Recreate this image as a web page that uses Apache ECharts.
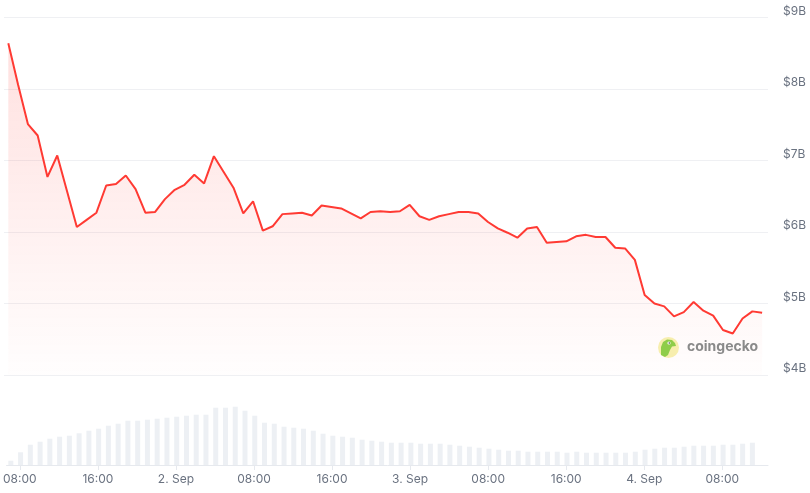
<!DOCTYPE html>
<html><head><meta charset="utf-8">
<script src="https://cdn.jsdelivr.net/npm/echarts@6/dist/echarts.min.js"></script>
<style>html,body{margin:0;padding:0;background:#fff}#c{width:810px;height:493px}</style>
</head><body><div id="c"></div>
<script>
// time in hours since 1 Sep 00:00, hourly samples
const startHour = 7.08;
// market cap, $B
const marketCap = [8.64, 8.06, 7.51, 7.35, 6.77, 7.07, 6.57, 6.07, 6.17, 6.27,
  6.65, 6.67, 6.79, 6.60, 6.27, 6.28, 6.46, 6.59, 6.66, 6.80,
  6.68, 7.06, 6.84, 6.62, 6.26, 6.43, 6.02, 6.08, 6.25, 6.26,
  6.27, 6.23, 6.37, 6.35, 6.33, 6.26, 6.19, 6.28, 6.29, 6.28,
  6.29, 6.38, 6.22, 6.17, 6.22, 6.25, 6.28, 6.28, 6.26, 6.14,
  6.05, 5.99, 5.92, 6.05, 6.07, 5.85, 5.86, 5.87, 5.94, 5.96,
  5.93, 5.93, 5.78, 5.77, 5.61, 5.12, 5.00, 4.96, 4.82, 4.88,
  5.02, 4.90, 4.83, 4.63, 4.58, 4.79, 4.89, 4.87];
// volume (relative units)
const volume = [4.3, 12.7, 20.3, 23.3, 26.3, 28.3, 29.3, 31.7, 34.3, 36.3,
  39.3, 41.3, 44.3, 44.3, 45.3, 46.3, 47.3, 48.3, 49.3, 50.3,
  50.3, 57.3, 57.3, 58.3, 54.3, 49.3, 42.3, 41.3, 38.3, 37.3,
  36.3, 34.3, 31.3, 29.3, 28.3, 27.3, 25.3, 24.3, 23.3, 22.3,
  22.3, 22.3, 21.3, 21.3, 21.3, 20.3, 19.3, 18.3, 17.3, 16.3,
  15.3, 14.3, 14.3, 13.3, 13.3, 13.3, 13.3, 12.3, 13.3, 12.3,
  12.3, 12.3, 12.3, 12.3, 13.3, 15.3, 16.3, 17.3, 17.3, 18.3,
  19.3, 19.3, 19.3, 20.3, 20.3, 21.3, 22.3];
const tickHours = [8, 16, 24, 32, 40, 48, 56, 64, 72, 80];
const tickLabels = ['08:00', '16:00', '2. Sep', '08:00', '16:00', '3. Sep', '08:00', '16:00', '4. Sep', '08:00'];

const capData = marketCap.map((v, i) => [startHour + i, v]);
const volData = volume.map((v, i) => [startHour + i, v]);
const xMin = 6.64, xMax = 84.68;
const font = 'Inter, "Liberation Sans", Arial, sans-serif';

const chart = echarts.init(document.getElementById('c'), null, {renderer: 'canvas'});
chart.setOption({
  animation: false,
  grid: [
    {left: 4, right: 42, top: 17.5, bottom: 118},
    {left: 4, right: 42, top: 395, bottom: 28}
  ],
  xAxis: [
    {type: 'value', gridIndex: 0, min: xMin, max: xMax, show: false},
    {type: 'value', gridIndex: 1, min: xMin, max: xMax,
      axisLine: {show: true, lineStyle: {color: '#e6e9ee', width: 1}},
      axisTick: {show: true, customValues: tickHours, length: 5, lineStyle: {color: '#e6e9ee'}},
      axisLabel: {show: true, customValues: tickHours, margin: 8, color: '#6a7280', fontSize: 12, fontFamily: font,
        formatter: v => tickLabels[tickHours.indexOf(Math.round(v))] || ''},
      splitLine: {show: false}}
  ],
  yAxis: [
    {type: 'value', gridIndex: 0, position: 'right', min: 4, max: 9, interval: 1,
      axisLine: {show: false}, axisTick: {show: false},
      axisLabel: {margin: 15, color: '#6a7280', fontSize: 12, fontFamily: font, verticalAlign: 'bottom', lineHeight: 13,
        formatter: v => '$' + v + 'B'},
      splitLine: {lineStyle: {color: '#eff0f3', width: 1}}},
    {type: 'value', gridIndex: 1, min: 0, max: 70, show: false, splitLine: {show: false}}
  ],
  series: [
    {type: 'line', xAxisIndex: 0, yAxisIndex: 0, data: capData, symbol: 'none', smooth: false,
      lineStyle: {color: '#ff3a33', width: 2},
      areaStyle: {origin: 'start', color: new echarts.graphic.LinearGradient(0, 0, 0, 1, [
        {offset: 0, color: 'rgba(255,58,51,0.22)'},
        {offset: 1, color: 'rgba(255,58,51,0.01)'}])}},
    {type: 'bar', xAxisIndex: 1, yAxisIndex: 1, data: volData, barWidth: 5,
      itemStyle: {color: '#edf0f4'}}
  ],
  graphic: [
    {type: 'circle', shape: {cx: 668.5, cy: 347.5, r: 10.5}, style: {fill: '#f7eeae'}, z: 10},
    {type: 'polygon', shape: {points: [[661, 355], [661, 347], [663, 342], [667, 339.5], [672, 340], [675, 343], [676, 346], [672, 346.5], [670, 350], [668, 355], [665, 357]]},
      style: {fill: '#8fcd4a'}, z: 11},
    {type: 'circle', shape: {cx: 669, cy: 343, r: 1.6}, style: {fill: '#ffffff'}, z: 12},
    {type: 'circle', shape: {cx: 669.3, cy: 343, r: 0.8}, style: {fill: '#4a4a4a'}, z: 13},
    {type: 'text', x: 687, y: 347, style: {text: 'coingecko', fill: '#8a8a8a', font: 'bold 14px ' + font, verticalAlign: 'middle'}, z: 10}
  ]
});
</script></body></html>
